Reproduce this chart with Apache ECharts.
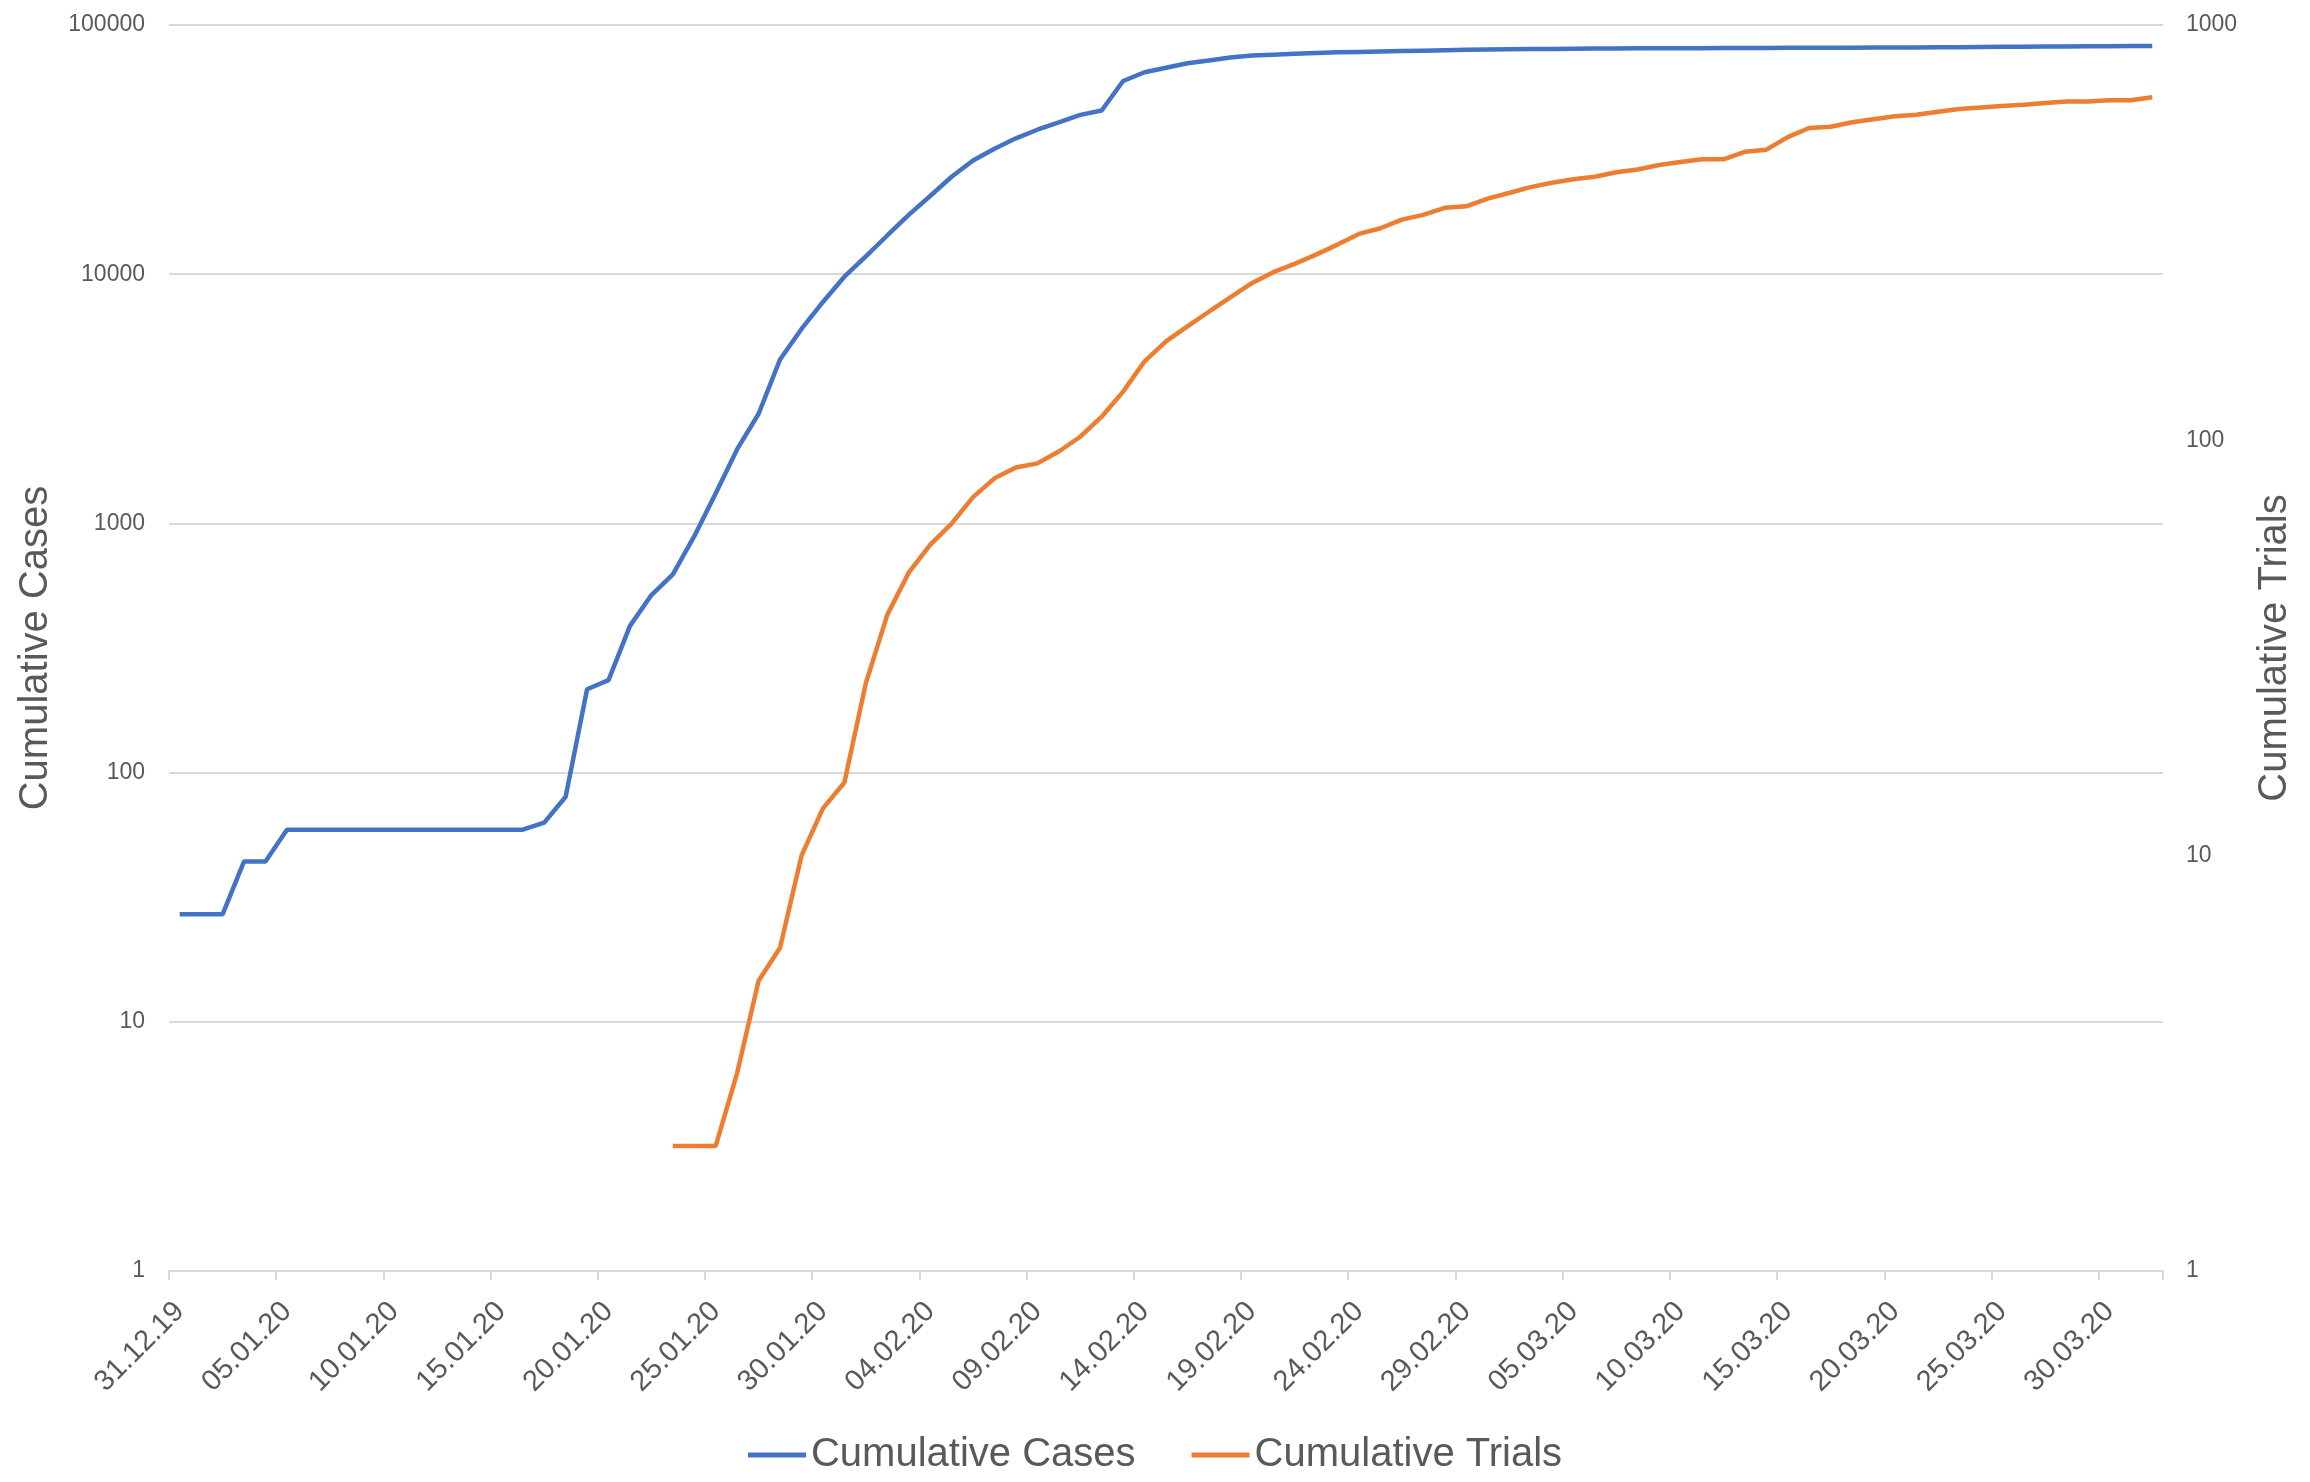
<!DOCTYPE html>
<html>
<head>
<meta charset="utf-8">
<script src="https://cdn.jsdelivr.net/npm/echarts@6/dist/echarts.min.js"></script>
<style>
html,body{margin:0;padding:0;background:#fff;}
#chart{width:2310px;height:1482px;}
</style>
</head>
<body>
<div id="chart"></div>
<script>
var dates = [
"31.12.19",
"01.01.20","02.01.20","03.01.20","04.01.20","05.01.20","06.01.20","07.01.20","08.01.20","09.01.20","10.01.20",
"11.01.20","12.01.20","13.01.20","14.01.20","15.01.20","16.01.20","17.01.20","18.01.20","19.01.20","20.01.20",
"21.01.20","22.01.20","23.01.20","24.01.20","25.01.20","26.01.20","27.01.20","28.01.20","29.01.20","30.01.20","31.01.20",
"01.02.20","02.02.20","03.02.20","04.02.20","05.02.20","06.02.20","07.02.20","08.02.20","09.02.20","10.02.20",
"11.02.20","12.02.20","13.02.20","14.02.20","15.02.20","16.02.20","17.02.20","18.02.20","19.02.20","20.02.20",
"21.02.20","22.02.20","23.02.20","24.02.20","25.02.20","26.02.20","27.02.20","28.02.20","29.02.20",
"01.03.20","02.03.20","03.03.20","04.03.20","05.03.20","06.03.20","07.03.20","08.03.20","09.03.20","10.03.20",
"11.03.20","12.03.20","13.03.20","14.03.20","15.03.20","16.03.20","17.03.20","18.03.20","19.03.20","20.03.20",
"21.03.20","22.03.20","23.03.20","24.03.20","25.03.20","26.03.20","27.03.20","28.03.20","29.03.20","30.03.20","31.03.20",
"01.04.20"
];

var cumulativeCases = [
27,27,27,44,44,59,59,59,59,59,
59,59,59,59,59,59,59,63,80,216,
235,388,516,624,889,1320,1985,2755,4550,6030,
7740,9770,11800,14300,17300,20600,24600,28600,31900,35100,
38000,40700,43600,45400,59600,64600,67400,70200,72100,74100,
75400,76000,76600,77200,77700,78000,78300,78600,78900,79200,
79500,79800,80000,80100,80200,80300,80400,80500,80600,80650,
80700,80750,80800,80850,80900,80950,81000,81050,81100,81150,
81200,81300,81400,81500,81600,81700,81800,81900,82000,82100,
82200,82300,82400
];

var cumulativeTrials = [
null,null,null,null,null,null,null,null,null,null,
null,null,null,null,null,null,null,null,null,null,
null,null,null,2,2,2,3,5,6,10,
13,15,26,38,48,56,63,73,81,86,
88,94,102,114,131,155,173,188,204,221,
239,254,266,280,296,314,324,340,349,363,
366,382,394,407,417,425,431,442,449,460,
468,475,475,495,501,537,565,569,583,593,
603,608,618,628,633,638,643,649,654,654,
659,659,670
];

var seriesNames = ["Cumulative Cases", "Cumulative Trials"];
var leftTitle = "Cumulative Cases";
var rightTitle = "Cumulative Trials";

var txt = "#595959";
var font = "Liberation Sans";
function plain(v) { return String(Math.round(v)); }
var chart = echarts.init(document.getElementById("chart"));
chart.setOption({
  animation: false,
  backgroundColor: "#ffffff",
  textStyle: {fontFamily: font},
  grid: {left: 169, right: 147, top: 25, bottom: 211, containLabel: false},
  legend: {
    data: seriesNames,
    left: "center",
    top: 1430,
    icon: "rect",
    itemWidth: 58,
    itemHeight: 5,
    itemGap: 56,
    textStyle: {fontSize: 40, color: txt, fontFamily: font}
  },
  xAxis: {
    type: "category",
    data: dates,
    boundaryGap: true,
    axisLine: {show: true, lineStyle: {color: "#d9d9d9", width: 2}},
    axisTick: {show: true, interval: 4, length: 9, lineStyle: {color: "#d9d9d9", width: 2}},
    axisLabel: {interval: 4, rotate: 45, fontSize: 29, color: txt, margin: 36, fontFamily: font},
    splitLine: {show: false}
  },
  yAxis: [
    {
      type: "log", logBase: 10, min: 1, max: 100000,
      name: leftTitle, nameLocation: "middle", nameRotate: 90, nameGap: 113,
      nameTextStyle: {fontSize: 40, color: txt, fontFamily: font},
      axisLine: {show: false}, axisTick: {show: false},
      axisLabel: {fontSize: 23, color: txt, margin: 24, fontFamily: font, formatter: plain},
      splitLine: {show: true, lineStyle: {color: "#d9d9d9", width: 2}}
    },
    {
      type: "log", logBase: 10, min: 1, max: 1000, position: "right",
      name: rightTitle, nameLocation: "middle", nameRotate: 90, nameGap: 92,
      nameTextStyle: {fontSize: 40, color: txt, fontFamily: font},
      axisLine: {show: false}, axisTick: {show: false},
      axisLabel: {fontSize: 23, color: txt, margin: 23, fontFamily: font, formatter: plain},
      splitLine: {show: false}
    }
  ],
  series: [
    {
      name: seriesNames[0], type: "line", yAxisIndex: 0, data: cumulativeCases,
      showSymbol: false, smooth: false, connectNulls: false,
      lineStyle: {color: "#4472C4", width: 4.5}, itemStyle: {color: "#4472C4"}
    },
    {
      name: seriesNames[1], type: "line", yAxisIndex: 1, data: cumulativeTrials,
      showSymbol: false, smooth: false, connectNulls: false,
      lineStyle: {color: "#ED7D31", width: 4.5}, itemStyle: {color: "#ED7D31"}
    }
  ]
});
</script>
</body>
</html>
